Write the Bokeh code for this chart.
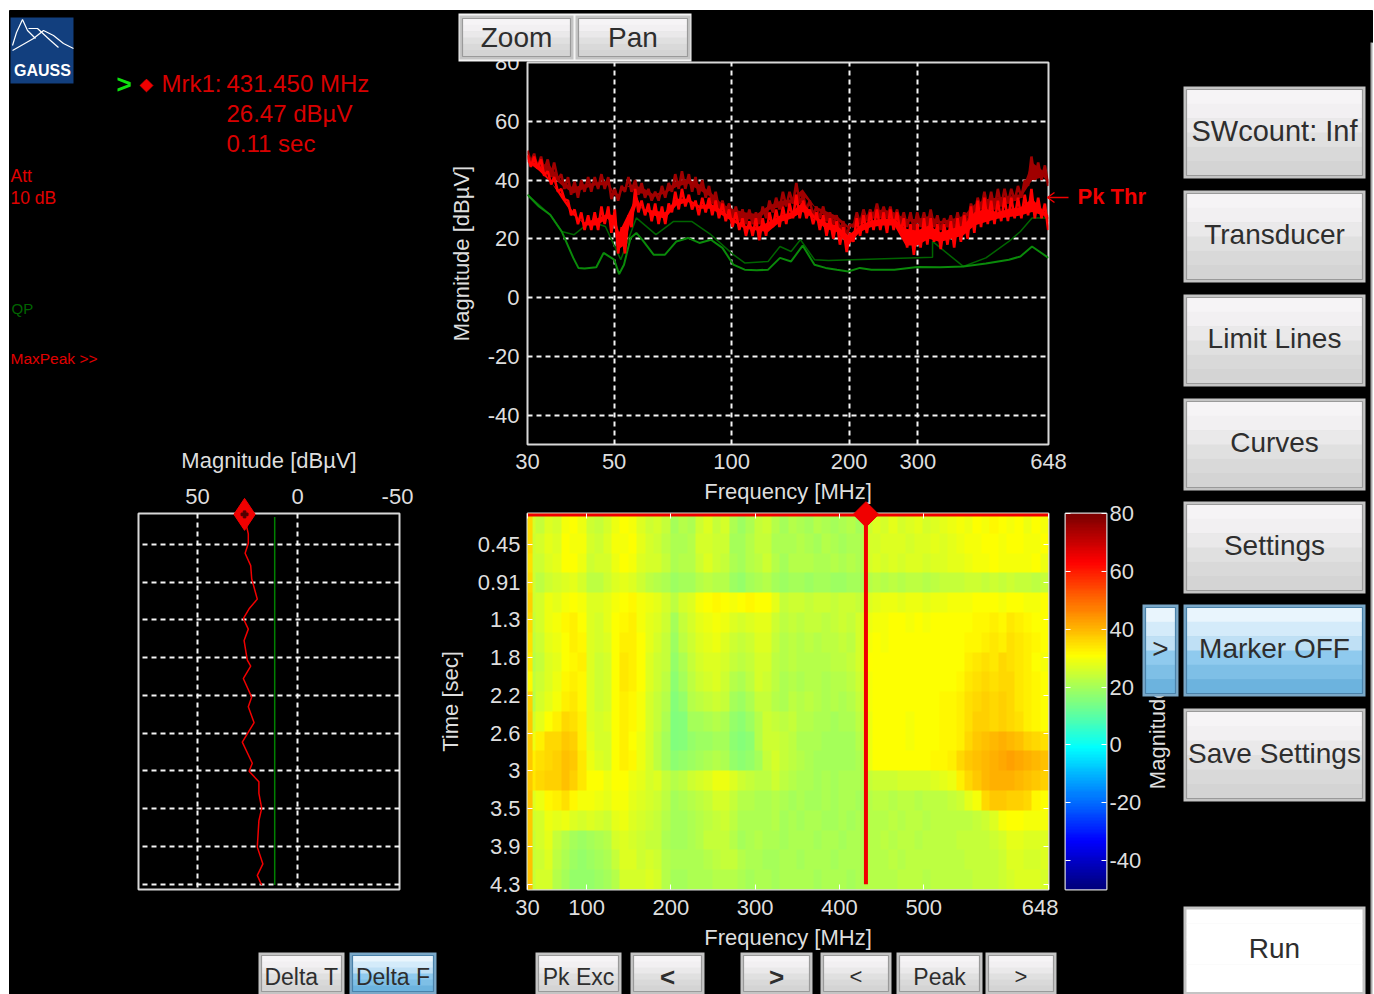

from bokeh.plotting import figure
from bokeh.embed import file_html
from bokeh.resources import INLINE
from bokeh.core.properties import value
from bokeh.models import Range1d, FixedTicker, LinearColorMapper, LinearAxis
import numpy as np

# ---------- data ----------
freq_nodes = [30,32.1,34.3,36.7,39.3,42,45,48.1,50,51.5,53,55.1,57,59,63.1,67.5,72.2,77.3,82.7,88.5,94.7,101,108,116,124,133,142,152,163,174,186,199,213,228,244,261,279,299,320,342,366,392,419,448,480,513,549,588,629,648]
peak_high = [48.6,47.5,41.8,35.6,29.9,27.6,28.8,30.5,29.9,24.2,27.6,32.2,36.7,32.2,31.6,31.0,35.6,35.6,33.3,33.9,31.6,28.8,26.5,25.9,27.6,29.9,31.0,34.4,29.9,27.6,26.5,23.1,26.5,28.2,28.8,28.8,25.4,24.8,26.5,24.2,25.4,26.5,31.0,32.2,31.0,32.2,32.7,35.6,31.6,29.9]
peak_low = [44.1,41.2,37.3,33.3,27.1,22.5,22.5,24.8,22.5,14.6,15.7,23.7,29.3,28.2,25.9,24.8,29.3,30.5,28.2,28.2,25.9,23.7,21.4,20.8,20.3,23.7,24.8,27.1,24.8,21.4,20.3,15.7,20.3,22.0,22.5,22.5,15.7,15.7,18.0,16.9,18.0,19.1,22.5,23.7,24.8,25.4,25.9,27.1,25.9,23.7]
maxhold_high = [49.7,47.5,46.3,41.2,39.0,40.1,40.7,41.2,37.3,36.7,38.4,40.1,39.5,39.0,36.7,37.8,41.2,41.8,40.1,37.3,33.3,31.6,30.5,29.9,32.7,34.4,35.0,38.4,32.7,31.0,29.3,25.9,28.2,30.5,31.6,30.5,28.2,28.2,29.3,27.6,28.2,29.3,33.3,35.0,35.6,36.1,36.7,47.5,44.6,41.8]
maxhold_low = [45.2,41.8,40.1,36.7,33.9,35.6,36.7,36.7,33.3,33.3,36.1,36.1,33.9,33.9,32.7,33.9,36.1,37.3,35.0,32.7,28.2,25.9,25.4,24.8,28.2,29.3,30.5,33.3,29.3,25.9,24.8,22.0,24.8,25.9,27.1,25.9,24.8,23.7,23.7,23.7,23.7,24.8,28.2,29.9,30.5,30.5,32.2,38.4,39.5,37.3]
trace_freq = [30,30.6,31.2,31.8,32.5,33.1,33.8,34.5,35.1,35.9,36.6,37.3,38.1,38.8,39.6,40.4,41.2,42,42.9,43.7,44.6,45.5,46.4,47.3,48.3,49.2,50.2,51.2,52.3,53.3,54.4,55.4,56.6,57.7,58.8,60,61.2,62.4,63.7,65,66.3,67.6,69,70.3,71.7,73.2,74.6,76.1,77.7,79.2,80.8,82.4,84.1,85.8,87.5,89.2,91,92.8,94.7,96.6,98.5,100.5,102.5,104.6,106.6,108.8,111,113.2,115.4,117.7,120.1,122.5,125,127.5,130,132.6,135.3,138,140.7,143.6,146.4,149.4,152.4,155.4,158.5,161.7,164.9,168.2,171.6,175,178.5,182.1,185.7,189.4,193.2,197.1,201,205,209.2,213.3,217.6,222,226.4,230.9,235.6,240.3,245.1,250,255,260,265.3,270.6,276,281.5,287.2,292.9,298.8,304.8,310.9,317.1,323.4,329.9,336.5,343.2,350.1,357.1,364.2,371.5,379,386.5,394.3,402.2,410.2,418.4,426.8,435.3,444,452.9,462,471.2,480.7,490.3,500,510,520.3,530.7,541.3,552.2,563.2,574.5,586,597.7,609.7,621.9,634.3,647]
peak_trace = [48.5,44.5,48,44,47,41.5,43,38.5,41,36,37,33.5,33,28,30,25,29,23,28,23,29,23,31,25,31,22,30,15,24,15,28,24,37,29,33,28,32,26,32,25,31,25,32,29,36,30,37,31,35,30,33,28,34,29,34,28,33,27,32,26,30,24,29,23,27,21,26,21,27,19.5,27,21,29,24,30,24,31,25,32,27,35,27,33,27,30,25,29,23,28,21,27,20,26,18,24,15.5,22,19,27,21,28,22,29,23,30,23,29,22,30,23,29,22,27,17,25,14.5,25,17,27,18,27,19,25,16.5,25,18,26,17,27,19,28,20,31,22,33,24,34,25,33,25,33,26,34,26,34,27,34,27,35,28,37,27,34,27,32,23]
maxhold_trace = [50,46,49,44,48,43,47,41,46,40,42,37,41,35,39.5,34,40,36,41,36,41,37,42,37,41,33.5,37,33,38,36,41,36,40,35,39,34,37,33,36,33,38,34,39,36,42,37,43,37,42,36,41,35,40,34,38,32,36,30,33,29,32,27,31,26,30,25,30,25,29,25,31,27,33,29,34,30,36,31,36,32,39,32,35,30,33,28,31,27,31,26,29,25,28,23,26,21,25,24,29,25,30,26,30,27,32,27,31,27,31,26,30,25,29,24,29,23,29,24,29,24,30,24,28,23,27,24,28,23,29,24,29,25,32,28,34,30,36,30,36,30,37,31,37,32,37,33,38,34,40,38,48,40,46,40,45,38]
qp_freq = [30,32.1,34.3,36.7,39.3,40.5,42,45,47,50,51.5,53,55.1,57,59,63.1,67.5,72.2,77.3,82.7,88.5,94.7,101,108,116,124,133,142,152,163,174,186,199,213,228,261,299,342,392,448,513,549,588,648]
qp_level = [35.0,31.0,28.2,22.5,13.5,10.1,9.9,10.3,15.2,12.9,8.0,11.2,20.3,22.0,19.7,14.6,14.6,19.1,20.3,18.6,19.7,16.9,11.2,9.5,9.3,9.5,13.5,12.3,17.7,11.2,10.1,9.5,8.9,10.1,9.5,9.5,10.4,10.3,10.6,11.6,12.9,14.0,17.4,13.5]
qp_hold_freq = [30,34.3,36.7,39.5,43.5,47.5,52,57,64,71,79,88.5,101,108,124,133,142,150,163,177,327,327,392,448,513,549,588,648]
qp_hold_level = [35.0,28.2,22.5,21.4,25.9,24.2,12.9,27.1,21.4,25.9,25.9,21.4,14.6,11.8,12.3,17.4,15.7,19.7,12.9,12.6,13.7,19.1,10.6,13.5,19.1,22.5,27.1,27.1]

time_ticks = [0.45,0.88,1.30,1.73,2.16,2.59,3.01,3.44,3.87,4.30]
time_labels = ["0.45","0.91","1.3","1.8","2.2","2.6","3","3.5","3.9","4.3"]
slice_time = [0.12,0.33,0.44,0.55,0.69,0.84,1.07,1.18,1.29,1.41,1.54,1.76,1.83,1.97,2.18,2.29,2.47,2.69,2.93,3.02,3.14,3.27,3.44,3.58,3.88,4.07,4.20,4.31]
slice_mag = [26.7,24.6,24.6,26.2,23.4,22.9,20.1,24.2,27.1,24.6,26.7,25.1,23.4,27.1,22.9,24.6,21.7,27.6,22.6,24.2,19.3,19.3,17.9,19.3,20.1,17.3,20.1,17.9]
slice_qp_time = [0.14,4.31]
slice_qp_mag = [11.4,11.4]
marker_freq, marker_mag, marker_time, last_time = 431.45, 26.47, 0.11, 4.30

spectrogram = [
[26,24,27,26,30,31,29,25,24,26,29,31,30,27,25,26,24,20,22,21,25,27,24,26,21,19,21,24,25,22,20,22,21,20,22,21,20,21,22,20,25,27,26,28,26,27,28,26,27,28,29,30,29,31,30,32,31,30,31,29,31,30],
[25,26,28,27,31,30,30,26,25,27,30,30,31,28,26,25,23,21,21,22,26,26,25,25,20,20,22,24,24,21,21,21,22,21,20,22,21,20,21,21,26,26,27,27,27,26,27,27,28,27,28,29,30,30,31,31,30,31,31,30,30,31],
[25,25,27,28,31,31,29,25,26,26,29,31,30,27,26,26,24,21,22,22,25,27,25,24,21,20,22,23,25,22,20,22,22,22,21,21,22,21,22,21,26,27,26,27,26,27,27,26,27,27,28,28,29,30,30,31,30,30,30,30,31,29],
[25,23,25,26,27,28,26,23,23,25,27,28,27,25,23,22,21,19,20,20,22,23,22,22,19,18,20,21,22,20,19,20,20,19,20,20,19,19,20,20,22,23,22,23,22,23,23,22,23,24,24,24,25,25,24,25,24,25,24,24,23,24],
[25,26,29,28,30,31,30,27,27,28,30,31,32,30,29,28,26,23,26,27,30,31,32,31,30,31,32,31,31,28,24,25,25,24,25,25,24,25,25,24,27,28,29,29,28,29,29,28,29,29,30,30,30,31,31,31,30,31,31,30,30,31],
[24,26,29,30,32,33,31,27,26,28,31,32,33,30,28,27,25,20,24,26,28,29,30,29,27,26,27,28,28,25,23,24,23,24,24,23,24,25,24,26,29,30,30,31,31,30,31,30,31,31,31,31,31,32,32,33,32,34,33,32,31,31],
[23,25,28,29,31,33,32,27,26,27,31,33,33,31,28,26,24,19,23,25,27,28,29,27,25,24,25,27,27,24,22,23,22,23,22,23,23,24,23,26,30,31,30,31,31,31,31,31,31,31,31,31,32,32,33,34,33,35,34,33,32,31],
[22,24,27,28,31,32,33,27,25,26,31,34,33,31,27,25,24,18,21,24,26,27,27,26,24,23,24,26,26,23,22,23,22,22,22,22,23,23,24,26,31,31,31,31,31,31,31,31,31,31,31,31,33,34,35,34,36,35,34,33,31,30],
[23,25,27,29,32,33,32,27,25,26,31,34,33,31,27,25,23,17,20,23,25,26,27,25,22,21,23,26,25,23,21,22,21,22,22,21,22,22,23,25,30,31,31,31,31,31,31,31,31,31,31,32,34,35,36,35,36,36,34,33,32,31],
[22,26,28,30,33,34,32,27,25,26,31,33,32,30,26,24,22,16,18,22,23,24,25,24,20,19,21,24,24,22,21,23,22,23,22,21,22,21,22,24,30,31,31,31,31,31,31,31,31,32,32,33,35,36,37,36,37,36,34,33,32,31],
[25,28,31,33,36,35,33,27,26,27,31,33,32,30,26,24,21,15,16,20,20,21,22,21,18,17,19,22,25,24,23,24,22,22,21,21,20,21,21,23,29,31,31,31,31,30,31,31,31,32,32,33,35,37,37,36,37,36,35,33,32,31],
[29,33,36,36,38,37,33,28,26,26,31,33,31,29,26,23,20,15,16,18,19,19,20,20,17,16,17,22,25,25,24,23,21,21,21,20,20,20,20,22,29,31,31,31,31,30,31,31,31,32,32,33,36,38,39,40,41,40,39,37,36,35],
[33,35,36,37,39,38,34,29,27,26,31,33,32,29,26,23,20,17,18,19,20,21,22,21,18,17,18,20,24,26,24,23,22,21,20,20,20,20,20,21,29,31,31,31,31,31,31,31,32,32,33,36,38,39,40,41,42,43,42,41,40,39],
[34,36,37,37,39,37,34,31,31,29,31,31,29,28,26,27,24,22,23,25,26,27,29,29,27,25,24,23,23,25,23,22,21,21,20,21,20,21,21,21,24,25,25,25,26,26,26,26,27,28,29,33,36,38,40,41,41,41,40,39,38,37],
[27,29,32,33,35,32,30,30,29,28,30,30,28,27,26,25,23,20,21,22,23,24,26,26,24,22,22,21,21,22,21,20,21,20,20,21,20,21,21,20,22,23,23,22,23,23,22,23,23,23,24,25,28,30,36,38,38,37,37,36,32,31],
[25,26,29,28,29,27,26,27,26,25,28,29,27,26,25,24,22,20,20,21,22,23,24,25,23,21,21,21,21,22,20,21,20,21,21,20,20,21,20,21,22,22,22,23,22,23,23,22,23,23,23,23,23,24,25,27,30,31,31,30,30,30],
[24,26,28,24,22,20,19,20,21,22,26,27,26,25,24,24,21,20,20,21,22,24,24,24,22,20,21,22,21,21,20,21,21,21,20,21,21,20,21,21,22,22,23,22,23,23,22,23,23,23,23,24,24,24,24,25,26,28,28,27,27,27],
[24,25,27,23,21,19,18,19,20,21,24,27,27,25,26,25,22,21,21,21,21,22,23,24,24,22,21,21,20,20,21,21,20,21,21,21,20,21,21,21,22,22,22,23,22,23,23,23,23,23,23,23,24,24,24,24,25,27,27,26,26,27],
[24,26,26,22,20,18,18,18,19,20,22,26,26,26,27,26,22,20,20,21,21,21,22,22,22,21,20,21,21,20,21,21,21,21,20,21,21,21,20,21,22,22,22,22,23,23,23,22,23,23,23,23,23,24,24,24,25,26,27,27,27,26],
]
edge_strip = [[36],[36],[35],[36],[37],[36],[35],[34],[32],[37],[38],[38],[38],[38],[39],[38],[38],[39],[39]]
spec_f0, spec_f1, edge_f1 = 30, 648, 36
spec_t0, spec_t1 = 0.10, 4.36
magnitude_scale = list(range(-50, 81))

# ---------- style ----------
AX = "#dedede"
jet = []
for v in np.linspace(0, 1, 256):
    r = np.clip(min(4*v-1.5, -4*v+4.5), 0, 1); g = np.clip(min(4*v-0.5, -4*v+3.5), 0, 1); b = np.clip(min(4*v+0.5, -4*v+2.5), 0, 1)
    jet.append("#%02x%02x%02x" % (int(r*255), int(g*255), int(b*255)))
mapper = LinearColorMapper(palette=jet, low=-50, high=80)

def place(fig, left, top):
    fig.styles = {"position": "absolute", "left": f"{left}px", "top": f"{top}px"}
    return fig

def panel(frame_w, frame_h, left, top, bl, bt, br, bb, **kw):
    f = figure(frame_width=frame_w, frame_height=frame_h, output_backend="svg", toolbar_location=None,
               background_fill_color="black", border_fill_color=None,
               min_border_left=bl, min_border_top=bt, min_border_right=br, min_border_bottom=bb,
               outline_line_color="#d8d8d8", outline_line_width=2, **kw)
    return place(f, left-bl, top-bt)

def style_axis(a, size="22px"):
    a.axis_line_color = None
    a.major_tick_line_color = "#ffffff"
    a.major_tick_in = 0
    a.major_tick_out = 0
    a.minor_tick_line_color = None
    a.major_label_text_color = AX
    a.major_label_text_font = "Liberation Sans"
    a.major_label_text_font_size = size
    a.axis_label_text_color = AX
    a.axis_label_text_font = "Liberation Sans"
    a.axis_label_text_font_size = "22px"
    a.axis_label_text_font_style = "normal"

def dash_grid(g, ticks):
    g.ticker = FixedTicker(ticks=ticks)
    g.grid_line_color = "#f4f4f4"
    g.grid_line_dash = "5 4"
    g.grid_line_width = 2

roots = []

# ---------- base layer ----------
base = figure(width=1374, height=994, x_range=Range1d(0, 1374), y_range=Range1d(994, 0), output_backend="svg",
              toolbar_location=None, x_axis_type=None, y_axis_type=None, outline_line_color=None,
              background_fill_color=None, border_fill_color=None, min_border=0)
base.grid.visible = False
base.quad(left=[9, 9], right=[1372, 1370], top=[10, 42], bottom=[42, 994], color="black")
base.segment(x0=[1371], x1=[1371], y0=[42], y1=[994], line_color="#a8a8a8", line_width=2)
base.text([1157], [701], text=["Magnitude [dBµV]"], text_color=AX, text_font_size="22px", text_font=value("Liberation Sans"),
          text_align="center", text_baseline="middle", angle=np.pi/2)
place(base, 0, 0)
roots.append(base)

# ---------- slice plot ----------
sl = panel(261, 376, 138, 513, 60, 90, 20, 10, x_range=Range1d(79.5, -51), y_range=Range1d(spec_t1, spec_t0), x_axis_location="above")
style_axis(sl.xaxis[0])
sl.xaxis[0].ticker = FixedTicker(ticks=[50, 0, -50])
sl.xaxis[0].major_label_overrides = {50: "50", 0: "0", -50: "-50"}
sl.xaxis[0].axis_label = "Magnitude [dBµV]"
sl.xaxis[0].major_label_standoff = 10
sl.xaxis[0].axis_label_standoff = 13
sl.yaxis.visible = False
dash_grid(sl.xgrid[0], [50, 0])
dash_grid(sl.ygrid[0], time_ticks)
sl.line(slice_qp_mag, slice_qp_time, line_color="#008000", line_width=1.5)
sl.line(slice_mag, slice_time, line_color="#f00000", line_width=1.5)
sl.scatter([marker_mag], [marker_time], marker="diamond", size=32, color="#f00000", level="overlay")
sl.scatter([marker_mag], [marker_time], marker="plus", size=7, color="#500000", level="overlay")
roots.append(sl)

# ---------- spectrum plot ----------
sp = panel(521, 382, 527, 62, 100, 20, 30, 70, x_axis_type="log", x_range=Range1d(30, 648), y_range=Range1d(-50, 80))
style_axis(sp.xaxis[0]); style_axis(sp.yaxis[0])
freq_ticks = [30, 50, 100, 200, 300, 648]
mag_ticks = [-40, -20, 0, 20, 40, 60, 80]
sp.xaxis[0].ticker = FixedTicker(ticks=freq_ticks)
sp.xaxis[0].major_label_overrides = {t: str(t) for t in freq_ticks}
sp.xaxis[0].axis_label = "Frequency [MHz]"
sp.xaxis[0].major_label_standoff = 9
sp.xaxis[0].axis_label_standoff = 7
sp.yaxis[0].ticker = FixedTicker(ticks=mag_ticks)
sp.yaxis[0].major_label_overrides = {t: str(t) for t in mag_ticks}
sp.yaxis[0].axis_label = "Magnitude [dBµV]"
sp.yaxis[0].major_label_standoff = 8
sp.yaxis[0].axis_label_standoff = 11
dash_grid(sp.xgrid[0], [50, 100, 200, 300])
dash_grid(sp.ygrid[0], [-40, -20, 0, 20, 40, 60])
sp.varea(x=freq_nodes, y1=np.array(maxhold_low)+1.5, y2=np.array(maxhold_high)-1.5, fill_color="#a00000")
sp.line(trace_freq, maxhold_trace, line_color="#a00000", line_width=2.6)
sp.line(qp_hold_freq, qp_hold_level, line_color="#006400", line_width=1.5)
sp.line(qp_freq, qp_level, line_color="#0a8a0a", line_width=2)
sp.varea(x=freq_nodes, y1=np.array(peak_low)+2, y2=np.array(peak_high)-2, fill_color="#ff0000")
sp.line(trace_freq, peak_trace, line_color="#ff0000", line_width=2.6)
roots.append(sp)

# ---------- spectrogram ----------
sg = panel(521, 376, 527, 513, 110, 20, 10, 70, x_range=Range1d(spec_f0, spec_f1), y_range=Range1d(spec_t1, spec_t0))
style_axis(sg.xaxis[0]); style_axis(sg.yaxis[0])
freq2 = [30, 100, 200, 300, 400, 500, 648]
sg.xaxis[0].ticker = FixedTicker(ticks=freq2)
sg.xaxis[0].major_tick_in = 5
sg.xaxis[0].axis_label = "Frequency [MHz]"
sg.xaxis[0].major_label_standoff = 10
sg.xaxis[0].axis_label_standoff = 7
sg.yaxis[0].ticker = FixedTicker(ticks=time_ticks)
sg.yaxis[0].major_label_overrides = dict(zip(time_ticks, time_labels))
sg.yaxis[0].major_tick_in = 5
sg.yaxis[0].axis_label = "Time [sec]"
sg.yaxis[0].major_label_standoff = 7
sg.yaxis[0].axis_label_standoff = 12
top_ax = LinearAxis(ticker=FixedTicker(ticks=freq2), major_label_overrides={t: "" for t in freq2})
right_ax = LinearAxis(ticker=FixedTicker(ticks=time_ticks), major_label_overrides={t: "" for t in time_ticks})
for a in (top_ax, right_ax):
    style_axis(a); a.major_tick_in = 5
sg.add_layout(top_ax, "above"); sg.add_layout(right_ax, "right")
sg.grid.visible = False
sg.image(image=[np.array(spectrogram, dtype=float)], x=spec_f0, y=spec_t0, dw=spec_f1-spec_f0, dh=spec_t1-spec_t0, color_mapper=mapper)
sg.image(image=[np.array(edge_strip, dtype=float)], x=spec_f0, y=spec_t0, dw=edge_f1-spec_f0, dh=spec_t1-spec_t0, color_mapper=mapper)
sg.line([spec_f0, spec_f1], [marker_time, marker_time], line_color="#f00000", line_width=4)
sg.line([marker_freq, marker_freq], [marker_time, last_time], line_color="#f00000", line_width=4)
sg.scatter([marker_freq], [marker_time], marker="square", angle=np.pi/4, size=18, color="#f00000", level="overlay")
roots.append(sg)

# ---------- colour scale ----------
cb = panel(41, 376, 1065, 513, 6, 20, 70, 10, x_range=Range1d(0, 1), y_range=Range1d(-50, 80), y_axis_location="right")
style_axis(cb.yaxis[0])
scale_ticks = [-40, -20, 0, 20, 40, 60, 80]
cb.yaxis[0].ticker = FixedTicker(ticks=scale_ticks)
cb.yaxis[0].major_label_overrides = {t: str(t) for t in scale_ticks}
cb.yaxis[0].major_tick_in = 5
cb.yaxis[0].major_label_standoff = 3
left_ax = LinearAxis(ticker=FixedTicker(ticks=scale_ticks), major_label_overrides={t: "" for t in scale_ticks})
style_axis(left_ax); left_ax.major_tick_in = 5
cb.add_layout(left_ax, "left")
cb.xaxis.visible = False
cb.grid.visible = False
cb.image(image=[np.array(magnitude_scale, dtype=float).reshape(-1, 1)], x=0, y=-50, dw=1, dh=130, color_mapper=mapper)
roots.append(cb)

# ---------- overlay: logo, readouts, buttons ----------
ov = figure(width=1374, height=994, x_range=Range1d(0, 1374), y_range=Range1d(994, 0), output_backend="svg",
            toolbar_location=None, x_axis_type=None, y_axis_type=None, outline_line_color=None,
            background_fill_color=None, border_fill_color=None, min_border=0)
ov.grid.visible = False

def txt(x, y, s, color, size, align="left", style="normal", font="Liberation Sans", angle=0):
    ov.text([x], [y], text=[s], text_color=color, text_font_size=size, text_align=align, text_baseline="middle",
            text_font_style=style, text_font=value(font), angle=angle)

grey_bands = ["#f6f4f6", "#f2f0f2", "#eae9ea", "#e0e0e0", "#d9d9d9", "#d4d4d4"]
blue_bands = ["#e9f5fd", "#d4ebfa", "#bfe0f5", "#8fcaee", "#7ebfe6", "#6cb3de"]
def button(x0, x1, y0, y1, label, size="28px", blue=False, white=False, bold=False, dy=-2):
    ov.quad(left=[x0], right=[x1], top=[y0], bottom=[y1], fill_color="#c4c4c4" if not blue else "#7aa8c8", line_color=None)
    bands = blue_bands if blue else (["#ffffff"]*6 if white else grey_bands)
    ix0, ix1, iy0, iy1 = x0+3, x1-3, y0+3, y1-3
    h = (iy1-iy0)/6
    for k, c in enumerate(bands):
        ov.quad(left=[ix0], right=[ix1], top=[iy0+k*h], bottom=[iy0+(k+1)*h+0.5], fill_color=c, line_color=None)
    if not white:
        ov.quad(left=[ix0], right=[ix1], top=[iy0], bottom=[iy1], fill_color=None, line_color="#9a9a9a" if not blue else "#4a82aa", line_width=1.2)
    txt((x0+x1)/2, (y0+y1)/2+dy, label, "#2e2e2e", size, align="center", style="bold" if bold else "normal")

# logo
ov.quad(left=[10], right=[73], top=[17], bottom=[83], fill_color="#123f7e", line_color=None)
ov.line([12,16,22,27,35], [45,32,19,30,38], line_color="white", line_width=1.2)
ov.line([12,33,43,53,63,73], [50,38,30,35,43,48], line_color="white", line_width=1.2)
ov.line([28,37,50,58], [28,28,40,47], line_color="white", line_width=1.2)
txt(42, 70, "GAUSS", "white", "16px", align="center", style="bold")

# readouts
txt(116, 83, ">", "#10e010", "26px", style="bold")
ov.scatter([146], [85], marker="square", angle=np.pi/4, size=9, color="#f00000")
txt(161, 83, "Mrk1:", "#d80000", "24px")
txt(226, 83, "431.450 MHz", "#d80000", "24px")
txt(226, 113, "26.47 dBµV", "#d80000", "24px")
txt(226, 143, "0.11 sec", "#d80000", "24px")
txt(10, 175, "Att", "#e00000", "17.5px")
txt(10, 197, "10 dB", "#e00000", "17.5px")
txt(11, 308, "QP", "#006400", "15px")
txt(10, 358, "MaxPeak >>", "#e00000", "15.5px")

# threshold tag
ov.segment(x0=[1047], y0=[197], x1=[1068], y1=[197], line_color="#f00000", line_width=1.5)
ov.line([1054,1047,1054], [192,197,202], line_color="#f00000", line_width=1.5)
txt(1077, 196, "Pk Thr", "#f00000", "22px", style="bold")

# buttons
ov.quad(left=[458], right=[691], top=[13], bottom=[61], fill_color="#f4f4f4", line_color=None)
button(459, 573, 15, 59, "Zoom", dy=0)
button(575, 690, 15, 59, "Pan", dy=0)
for y0, y1, lab, sz in [(86,178,"SWcount: Inf","29px"),(190,282,"Transducer","28px"),(294,386,"Limit Lines","28px"),(398,490,"Curves","28px"),(501,593,"Settings","28px"),(708,801,"Save Settings","28px")]:
    button(1183, 1365, y0, y1, lab, size=sz)
button(1183, 1365, 604, 696, "Marker OFF", blue=True)
button(1142, 1178, 604, 696, ">", blue=True)
button(1183, 1365, 906, 994, "Run", white=True)
for x0, x1, lab, sz, bl, bd in [(258,344,"Delta T","23px",False,False),(349,436,"Delta F","23px",True,False),(535,621,"Pk Exc","23px",False,False),
                            (630,704,"<","26px",False,True),(740,812,">","26px",False,True),(820,891,"<","22px",False,False),
                            (896,982,"Peak","23px",False,False),(985,1056,">","22px",False,False)]:
    button(x0, x1, 952, 994, lab, size=sz, blue=bl, bold=bd, dy=3)
place(ov, 0, 0)
roots.append(ov)

open("out.html", "w").write(file_html(roots, INLINE))
